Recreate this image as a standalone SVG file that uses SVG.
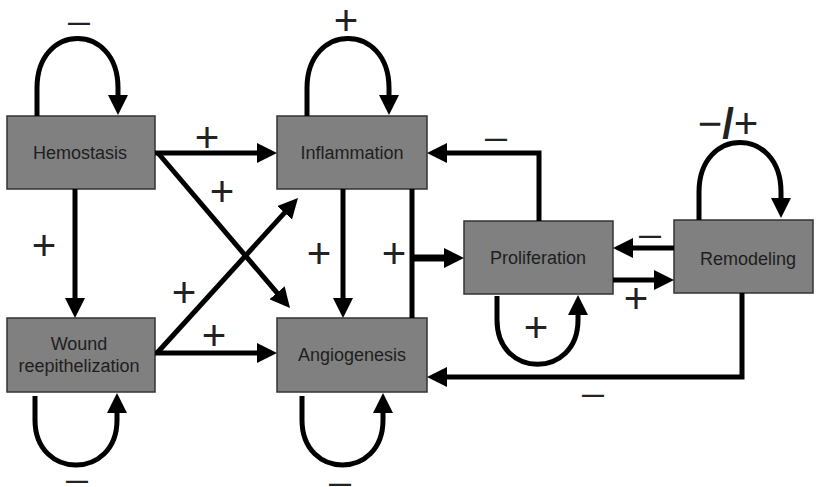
<svg xmlns="http://www.w3.org/2000/svg" width="816" height="487" viewBox="0 0 816 487">
  <style>
    .box { fill: #808080; stroke: #333333; stroke-width: 1.5; }
    .lbl { font-family: "Liberation Sans", Arial, sans-serif; font-size: 18px; fill: #1e1e1e; text-anchor: middle; }
    .edge { fill: none; stroke: #000000; stroke-width: 5; stroke-linejoin: miter; }
    .plus { font-family: "Liberation Sans", Arial, sans-serif; font-size: 42px; fill: #222222; text-anchor: middle; dominant-baseline: central; }
    .minus { font-family: "Liberation Sans", Arial, sans-serif; font-size: 22px; font-weight: bold; fill: #222222; text-anchor: middle; dominant-baseline: central; }
  </style>
  <defs>
    <marker id="head" viewBox="0 0 20 20" refX="10" refY="10" markerWidth="20" markerHeight="20" markerUnits="userSpaceOnUse" orient="auto">
      <path d="M0,0 L20,10 L0,20 Z" fill="#000000"/>
    </marker>
  </defs>

  <!-- nodes -->
  <g id="hemostasis">
    <rect class="box" x="7" y="116" width="148" height="73"/>
    <text class="lbl" x="80" y="159">Hemostasis</text>
  </g>
  <g id="inflammation">
    <rect class="box" x="277" y="116" width="150" height="73"/>
    <text class="lbl" x="352" y="159">Inflammation</text>
  </g>
  <g id="wound">
    <rect class="box" x="7" y="318" width="148" height="74"/>
    <text class="lbl" x="79" y="350">Wound</text>
    <text class="lbl" x="79" y="372">reepithelization</text>
  </g>
  <g id="angiogenesis">
    <rect class="box" x="277" y="318" width="150" height="74"/>
    <text class="lbl" x="352" y="361">Angiogenesis</text>
  </g>
  <g id="proliferation">
    <rect class="box" x="464" y="221" width="149" height="73"/>
    <text class="lbl" x="538" y="264">Proliferation</text>
  </g>
  <g id="remodeling">
    <rect class="box" x="674" y="220" width="139" height="73"/>
    <text class="lbl" x="748" y="265">Remodeling</text>
  </g>

  <!-- connectors -->
  <g id="connectors">
    <!-- self loops -->
    <path class="edge" d="M37,116 L37,88 C37,22 118,22 118,88 L118,105" marker-end="url(#head)"/>
    <path class="edge" d="M307,116 L307,88 C307,22 389,22 389,88 L389,105" marker-end="url(#head)"/>
    <path class="edge" d="M699,220 L699,192 C699,126 781,126 781,192 L781,208" marker-end="url(#head)"/>
    <path class="edge" d="M35,396 L35,420 C35,480 117,480 117,420 L117,403" marker-end="url(#head)"/>
    <path class="edge" d="M302,396 L302,420 C302,480 383,480 383,420 L383,403" marker-end="url(#head)"/>
    <path class="edge" d="M497,296 L497,320 C497,379 578,379 578,320 L578,305" marker-end="url(#head)"/>

    <!-- Hemostasis out -->
    <path class="edge" d="M155,153 L267,153" marker-end="url(#head)"/>
    <path class="edge" d="M158,153 L283.5,300.4" marker-end="url(#head)"/>
    <path class="edge" d="M75,189 L75,308" marker-end="url(#head)"/>

    <!-- Wound out -->
    <path class="edge" d="M157,353 L291.3,205.4" marker-end="url(#head)"/>
    <path class="edge" d="M155,353 L267,353" marker-end="url(#head)"/>

    <!-- Inflammation out -->
    <path class="edge" d="M343,189 L343,308" marker-end="url(#head)"/>
    <path class="edge" d="M412,189 L412,318"/>
    <path class="edge" d="M412,258 L454,258" style="stroke-width:7" marker-end="url(#head)"/>

    <!-- Proliferation / Remodeling -->
    <path class="edge" d="M539,221 L539,153 L437,153" marker-end="url(#head)"/>
    <path class="edge" d="M674,248 L623,248" marker-end="url(#head)"/>
    <path class="edge" d="M613,280 L664,280" marker-end="url(#head)"/>
    <path class="edge" d="M742,293 L742,377 L437,377" marker-end="url(#head)"/>
  </g>

  <!-- signs -->
  <g id="signs">
    <text class="minus" x="79" y="22">—</text>
    <text class="plus" x="346" y="20">+</text>
    <text class="plus" x="207" y="137">+</text>
    <text class="plus" x="222" y="191">+</text>
    <text class="plus" x="44" y="245">+</text>
    <text class="plus" x="184" y="292">+</text>
    <text class="plus" x="214" y="335">+</text>
    <text class="plus" x="319" y="253">+</text>
    <text class="plus" x="394" y="253">+</text>
    <text class="minus" x="496" y="138">—</text>
    <text class="minus" x="650" y="235">—</text>
    <text class="plus" x="636" y="298">+</text>
    <text class="plus" x="536" y="327">+</text>
    <text class="minus" x="593" y="394">—</text>
    <text class="minus" x="77" y="480">—</text>
    <text class="minus" x="340" y="483">—</text>
    <text class="plus" x="728" y="123">−<tspan font-weight="bold">/</tspan>+</text>
  </g>
</svg>
